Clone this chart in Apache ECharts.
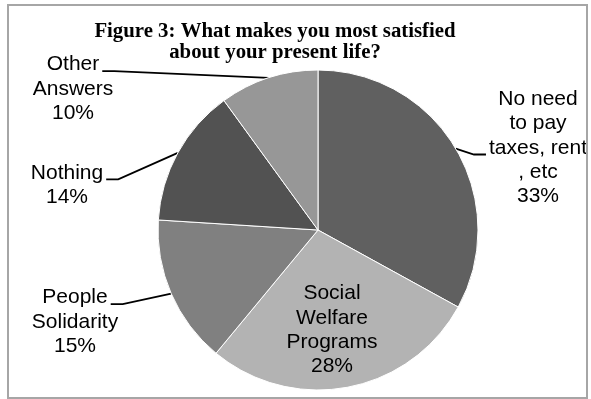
<!DOCTYPE html>
<html>
<head>
<meta charset="utf-8">
<script src="https://cdn.jsdelivr.net/npm/echarts@6/dist/echarts.min.js"></script>
<style>
  html, body { margin: 0; padding: 0; background: #fff; }
  #chart { width: 591px; height: 399px; position: absolute; left: 0; top: 0; }
  #frame { position: absolute; left: 7px; top: 4px; width: 577px; height: 391px;
           border: 2px solid #a6a6a6; pointer-events: none; }
</style>
</head>
<body>
<div id="chart"></div>
<div id="frame"></div>
<script>
// slices clockwise from 12 o'clock
const categories = ['No need\nto pay\ntaxes, rent\n, etc', 'Social\nWelfare\nPrograms', 'People\nSolidarity', 'Nothing', 'Other\nAnswers']
const values = [33, 28, 15, 14, 10]
const sliceColors = ['#606060', '#b3b3b3', '#808080', '#525252', '#979797']

// where each label block sits (center x, middle y)
const labelSpots = [[538, 148], [332, 330], [75, 322], [67, 185], [73, 89]]
// which text line the leader meets, and on which side of it
const leaderLine = [2, null, 0, 0, 0]
const leaderSide = ['left', null, 'right', 'right', 'right']

const labelFont = 'Liberation Sans'
const labelSize = 21
const labelLineHeight = 24.3

const ctx = document.createElement('canvas').getContext('2d')
ctx.font = labelSize + 'px "' + labelFont + '"'

const chart = echarts.init(document.getElementById('chart'))

const data = categories.map((name, i) => {
  const item = { name, value: values[i], itemStyle: { color: sliceColors[i] } }
  if (i === 1) {
    item.label = { position: 'inside' }
    item.labelLine = { show: false }
  }
  return item
})

const total = values.reduce((a, b) => a + b, 0)

const layoutLabel = (p) => {
  const i = p.dataIndex
  const [cx, cy] = labelSpots[i]
  const out = { x: cx, y: cy, align: 'center', verticalAlign: 'middle' }
  if (leaderLine[i] == null || !p.labelLinePoints) return out
  const lines = (categories[i] + '\n' + Math.round(values[i] / total * 100) + '%').split('\n')
  const k = leaderLine[i]
  const w = ctx.measureText(lines[k]).width
  const ly = cy + (k - (lines.length - 1) / 2) * labelLineHeight + 6.5
  const dir = leaderSide[i] === 'right' ? 1 : -1
  const ex = cx + dir * (w / 2 + 3)
  const start = p.labelLinePoints[0]
  out.labelLinePoints = [start, [ex + dir * 12, ly], [ex, ly]]
  return out
}

chart.setOption({
  animation: false,
  title: {
    text: 'Figure 3: What makes you most satisfied\nabout your present life?',
    left: 270,
    top: 16,
    textAlign: 'center',
    textStyle: {
      fontFamily: 'Liberation Serif',
      fontWeight: 'bold',
      fontSize: 20.8,
      lineHeight: 21,
      color: '#000'
    }
  },
  series: [{
    type: 'pie',
    center: [318, 230],
    radius: 160,
    startAngle: 90,
    clockwise: true,
    itemStyle: { borderColor: '#fff', borderWidth: 1 },
    label: {
      formatter: '{b}\n{d}%',
      fontFamily: labelFont,
      fontSize: labelSize,
      lineHeight: labelLineHeight,
      color: '#000',
      align: 'center',
      width: 160,
      overflow: 'none'
    },
    labelLine: {
      show: true,
      lineStyle: { color: '#000', width: 1.8 }
    },
    labelLayout: layoutLabel,
    data
  }]
})
</script>
</body>
</html>
